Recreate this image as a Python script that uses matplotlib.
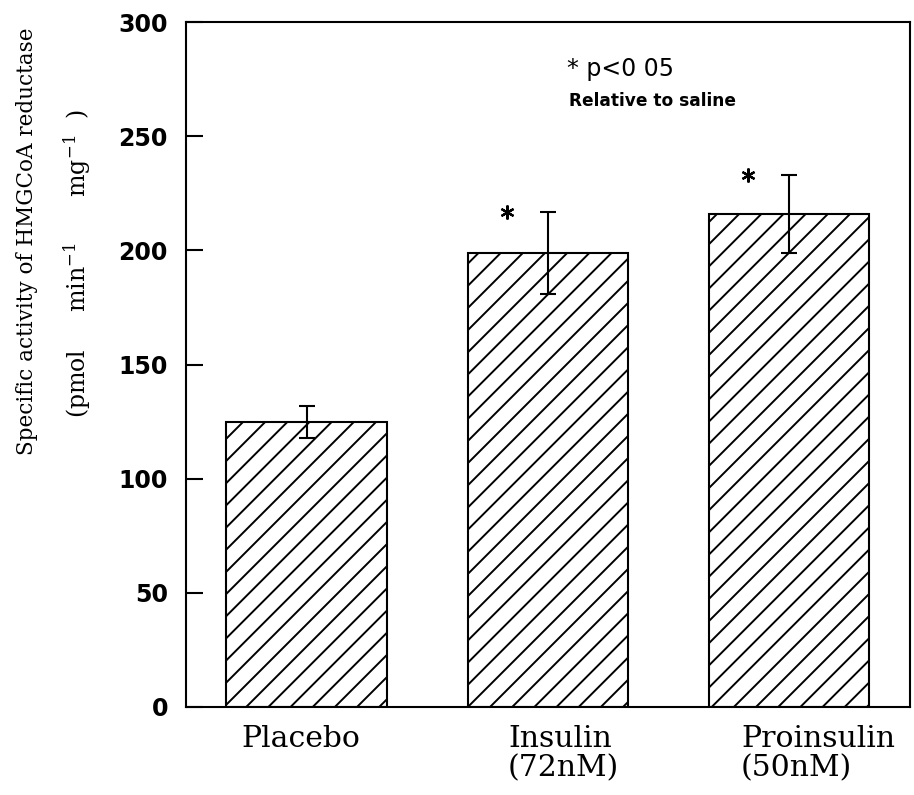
import matplotlib
matplotlib.use("Agg")
import matplotlib.pyplot as plt

groups = ["Placebo", "Insulin\n(72nM)", "Proinsulin\n(50nM)"]
activity = [125, 199, 216]
sem = [7, 18, 17]
significant = [False, True, True]

# higher dpi only to get the hatch spacing right; k rescales point sizes
DPI = 133
k = 100 / DPI

plt.rcParams['hatch.linewidth'] = 1.4 * k
plt.rcParams['mathtext.fontset'] = 'dejavuserif'

fig = plt.figure(figsize=(914 / DPI, 795 / DPI), dpi=DPI)
ax = fig.add_axes([0.2035, 0.1107, 0.792, 0.8616])

x = list(range(len(groups)))
ax.bar(x, activity, width=0.665, color='white', edgecolor='black',
       linewidth=1.5 * k, hatch='//')
ax.errorbar(x, activity, yerr=sem, fmt='none', ecolor='black',
            elinewidth=1.5 * k, capsize=6 * k, capthick=1.5 * k)

# asterisks next to the significant bars
for xi, m, e, s in zip(x, activity, sem, significant):
    if s:
        ax.plot(xi - 0.17, m + e, marker=(6, 2, 0), color='black',
                markersize=10 * k, markeredgewidth=1.6 * k)

ax.set_xlim(-0.5, 2.5)
ax.set_ylim(0, 300)
ax.set_yticks([0, 50, 100, 150, 200, 250, 300])
ax.set_xticks([])
ax.tick_params(axis='y', direction='in', length=12 * k, width=1.5 * k,
               pad=13 * k, labelsize=17 * k)
for lab in ax.get_yticklabels():
    lab.set_fontweight('bold')
for sp in ax.spines.values():
    sp.set_linewidth(1.5 * k)

label_shift = [-0.27, -0.166, -0.2]
for xi, g, dx in zip(x, groups, label_shift):
    ax.text(xi + dx, -8, g, ha='left', va='top', family='DejaVu Serif',
            fontsize=21.5 * k, linespacing=1.05)

ax.text(0.6, 0.932, "* p<0 05", transform=ax.transAxes, ha='center',
        va='center', fontsize=17 * k)
ax.text(0.645, 0.884, "Relative to saline", transform=ax.transAxes,
        ha='center', va='center', fontsize=12.3 * k, fontweight='bold')

fig.text(0.03, 0.696, "Specific activity of HMGCoA reductase", rotation=90,
         ha='center', va='center', family='DejaVu Serif', fontsize=15.5 * k)
fig.text(0.085, 0.669, r"(pmol     min$^{-1}$      mg$^{-1}$  )",
         rotation=90, ha='center', va='center', family='DejaVu Serif',
         fontsize=17 * k)

fig.savefig("out.png", dpi=DPI)
